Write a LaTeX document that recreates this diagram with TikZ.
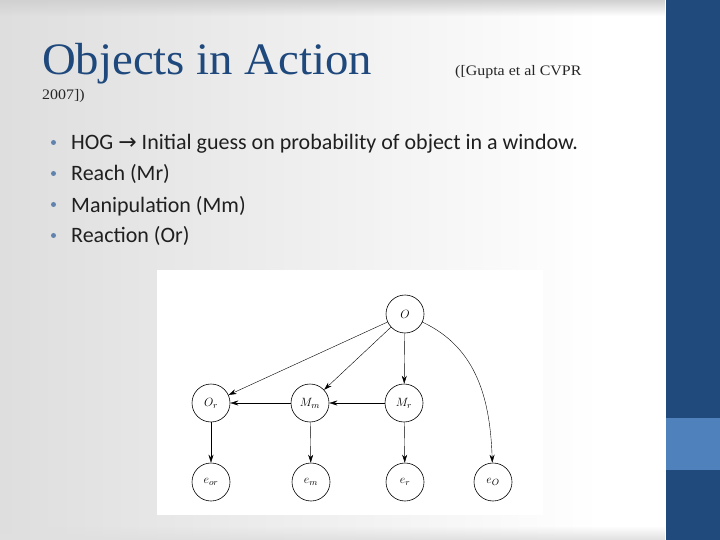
\documentclass[tikz,border=0pt]{standalone}
\usepackage{fontspec}
\setmainfont{Carlito}
\newfontfamily\titlefont[FakeStretch=1.04]{Liberation Serif}
\newfontfamily\smallserif[FakeStretch=1.1]{Liberation Serif}
\newfontfamily\dejavu{DejaVu Sans}
\usetikzlibrary{arrows.meta,fadings}
\definecolor{titleblue}{RGB}{31,73,125}
\definecolor{bandblue}{RGB}{32,74,124}
\definecolor{lightband}{RGB}{79,129,189}
\definecolor{bulletblue}{RGB}{95,130,175}
\tikzset{
  gnode/.style={circle,draw,semithick,minimum size=38pt,inner sep=0pt,font=\fontsize{13}{15}\selectfont},
  garrow/.style={-{Stealth[length=8pt,width=5pt]},thin},
  bullettext/.style={anchor=base west,inner sep=0pt,font=\fontsize{22}{26}\selectfont,text=black!88},
  bulletdot/.style={circle,fill=bulletblue,inner sep=0pt,minimum size=5pt},
}
\begin{document}
\begin{tikzpicture}[x=1pt,y=-1pt]
\useasboundingbox (0,0) rectangle (720,540);
% background
\shade[left color=black!13,right color=white] (0,0) rectangle (600,540);
\fill[white] (600,0) rectangle (666,540);
\fill[black!18,path fading=south] (0,0) rectangle (666,16);
\fill[black!12,path fading=north] (0,526) rectangle (666,540);
\fill[bandblue] (666,0) rectangle (720,540);
\fill[lightband] (666,418) rectangle (720,470);
% title
\node[anchor=base west,inner sep=0pt,text=titleblue,font=\titlefont\fontsize{45}{50}\selectfont] (title) at (42,75) {Objects in Action};
\node[anchor=base west,inner sep=0pt,text=black!85,font=\smallserif\fontsize{14.5}{17}\selectfont] (cite1) at (455,76) {([Gupta et al CVPR};
\node[anchor=base west,inner sep=0pt,text=black!85,font=\smallserif\fontsize{14.5}{17}\selectfont] (cite2) at (42,100) {2007])};
% bullets
\foreach \y/\t [count=\i] in {150/{HOG {\dejavu\fontsize{22}{24}\selectfont →} Initial guess on probability of object in a window.},181/{Reach (Mr)},212/{Manipulation (Mm)},243/{Reaction (Or)}}{
  \node[bulletdot] (b\i) at (53.5,\y-7.5) {};
  \node[bullettext] (t\i) at (71,\y) {\t};
}
% diagram image
\fill[white] (157,270) rectangle (543,515);
\node[gnode] (O) at (405,314) {$O$};
\node[gnode] (Or) at (211,403) {$O_r$};
\node[gnode] (Mm) at (310,403) {$M_m$};
\node[gnode] (Mr) at (404,403) {$M_r$};
\node[gnode] (eor) at (211,482) {$e_{or}$};
\node[gnode] (em) at (311,482) {$e_m$};
\node[gnode] (er) at (405,482) {$e_r$};
\node[gnode] (eO) at (493,482) {$e_O$};
\draw[garrow] (O) -- (Or);
\draw[garrow] (O) -- (Mm);
\draw[garrow] (O) -- (Mr);
\draw[garrow] (Mr) -- (Mm);
\draw[garrow] (Mm) -- (Or);
\draw[garrow] (Or) -- (eor);
\draw[garrow] (Mm) -- (em);
\draw[garrow] (Mr) -- (er);
\draw[garrow] (O) to[out=-25,in=92] (eO);
\end{tikzpicture}
\end{document}
